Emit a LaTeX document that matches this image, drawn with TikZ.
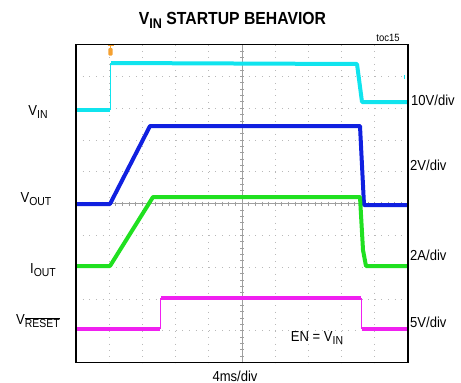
\documentclass[tikz,border=0pt]{standalone}
\usepackage{fontspec}
\setmainfont{Liberation Sans}[FakeStretch=0.9]
\usepackage{graphicx}

\newcommand{\subtxt}[1]{\raisebox{-0.45ex}{\scalebox{0.8}{#1}}}

\definecolor{vincol}{HTML}{10E4EE}
\definecolor{voutcol}{HTML}{1020E0}
\definecolor{ioutcol}{HTML}{20E020}
\definecolor{rstcol}{HTML}{F020F0}
\definecolor{trigcol}{HTML}{F5A030}

\begin{document}
\begin{tikzpicture}[x=1pt, y=-1pt,
  lbl/.style = {font=\fontsize{14.5}{16}\selectfont, inner sep=0pt},
  trace/.style = {line width=4pt, line join=round},
  edge/.style = {line width=0.9pt},
  vdots/.style = {gray!55, line width=0.8pt, dash pattern=on 0.8pt off 5.56pt},
  hdots/.style = {gray!55, line width=0.8pt, dash pattern=on 0.8pt off 5.84pt},
  axis/.style = {gray!75, line width=0.8pt}]
\useasboundingbox (0,0) rectangle (461,383);

% grid
\foreach \k in {1,...,9} {
  \draw[vdots] ({76+33.2*\k},44.6) -- ({76+33.2*\k},362.6);
  \draw[hdots] (76,{44.6+31.8*\k}) -- (408,{44.6+31.8*\k});
}
\draw[axis] (242,44.6) -- (242,362.6);
\draw[axis] (76,203.6) -- (408,203.6);
\foreach \k in {1,...,49} {\draw[axis] ({76+6.64*\k},201.6) -- ++(0,4);}
\foreach \k in {1,...,49} {\draw[axis] (240,{44.6+6.36*\k}) -- ++(4,0);}

% traces
\draw[trace, vincol] (76,110) -- (110,110);
\draw[edge, vincol] (110.5,110) -- (110.5,63);
\draw[trace, vincol] (111,63) -- (357,64) -- (362,102) -- (408,102);
\draw[edge, vincol] (404.5,75) -- (404.5,79);
\draw[trace, voutcol] (76,204) -- (110,204) -- (150,126) -- (360,126) -- (364,205) -- (408,205);
\draw[trace, ioutcol] (76,266) -- (110,266) -- (153,197) -- (360,197) -- (363,250) -- (366,266) -- (408,266);
\draw[trace, rstcol] (76,329) -- (160,329);
\draw[edge, rstcol] (160.5,329) -- (160.5,298);
\draw[trace, rstcol] (161,298) -- (361,298);
\draw[edge, rstcol] (361.5,298) -- (361.5,329);
\draw[trace, rstcol] (362,329) -- (408,329);

% trigger mark
\draw[trigcol, line width=1pt] (107.5,45) -- (113.5,45);
\draw[trigcol, line width=1pt] (110.5,45) -- (110.5,48);
\fill[trigcol, rounded corners=1pt] (108.3,48) rectangle (112.7,55.5);

% frame
\draw[line width=1.4pt] (76,44.6) rectangle (408,362.6);

% labels
\node[font=\bfseries\fontsize{17.5}{19}\selectfont, inner sep=0pt] (title) at (232.5,20) {V\subtxt{IN} STARTUP BEHAVIOR};
\node[font=\fontsize{10.5}{12}\selectfont, inner sep=0pt] (toc) at (388,38) {toc15};
\node[lbl] (vinL) at (38,112) {V\subtxt{IN}};
\node[lbl] (voutL) at (36,199) {V\subtxt{OUT}};
\node[lbl] (ioutL) at (43,270) {I\subtxt{OUT}};
\node[lbl] (rstL) at (38,321) {V\subtxt{$\overline{\mbox{RESET}}$}};
\node[lbl, anchor=west] (vinD) at (411,100) {10V/div};
\node[lbl, anchor=west] (voutD) at (410,165) {2V/div};
\node[lbl, anchor=west] (ioutD) at (410,255) {2A/div};
\node[lbl, anchor=west] (rstD) at (410,322) {5V/div};
\node[lbl] (en) at (317,338) {EN = V\subtxt{IN}};
\node[lbl] (tdiv) at (235,376) {4ms/div};
\end{tikzpicture}
\end{document}
